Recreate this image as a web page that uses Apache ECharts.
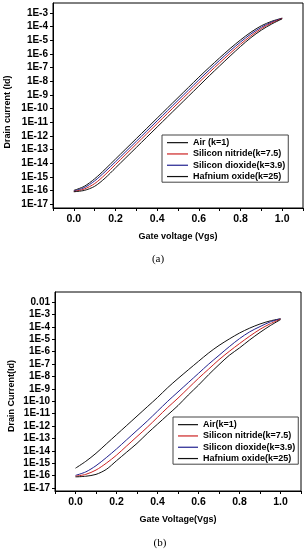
<!DOCTYPE html>
<html>
<head>
<meta charset="utf-8">
<script src="https://cdn.jsdelivr.net/npm/echarts@6/dist/echarts.min.js"></script>
<style>
html,body{margin:0;padding:0;background:#fff;}
#c{width:308px;height:550px;}
</style>
</head>
<body>
<div id="c"></div>
<script>
// Gate voltage (V)
var gateVoltage = [0,0.05,0.1,0.15,0.2,0.25,0.3,0.35,0.4,0.45,0.5,0.55,0.6,0.65,0.7,0.75,0.8,0.85,0.9,0.95,1.0];

// Panel (a): log10 of drain current (A)
var airA_log10      = [-16.0,-15.7,-15.15,-14.45,-13.7,-12.95,-12.2,-11.45,-10.7,-9.95,-9.2,-8.45,-7.7,-6.98,-6.28,-5.6,-4.97,-4.4,-3.93,-3.6,-3.37];
var nitrideA_log10  = [-16.08,-15.9,-15.5,-14.85,-14.1,-13.35,-12.6,-11.85,-11.1,-10.35,-9.6,-8.85,-8.1,-7.36,-6.65,-5.95,-5.28,-4.67,-4.14,-3.72,-3.4];
var dioxideA_log10  = [-16.05,-15.8,-15.3,-14.63,-13.9,-13.15,-12.4,-11.65,-10.9,-10.15,-9.4,-8.65,-7.9,-7.17,-6.46,-5.77,-5.12,-4.53,-4.04,-3.66,-3.38];
var hafniumA_log10  = [-16.1,-16.0,-15.7,-15.1,-14.35,-13.6,-12.85,-12.1,-11.35,-10.6,-9.85,-9.1,-8.35,-7.6,-6.87,-6.15,-5.45,-4.8,-4.25,-3.8,-3.42];

// Panel (b): log10 of drain current (A)
var airB_log10      = [-15.4,-14.85,-14.2,-13.45,-12.7,-11.95,-11.2,-10.45,-9.7,-8.9,-8.17,-7.47,-6.78,-6.1,-5.5,-4.98,-4.5,-4.1,-3.77,-3.52,-3.35];
var nitrideB_log10  = [-16.05,-15.9,-15.55,-15.0,-14.35,-13.6,-12.85,-12.1,-11.3,-10.5,-9.75,-8.95,-8.15,-7.4,-6.65,-5.98,-5.35,-4.75,-4.2,-3.75,-3.38];
var dioxideB_log10  = [-15.98,-15.7,-15.2,-14.55,-13.85,-13.1,-12.35,-11.6,-10.8,-10.0,-9.25,-8.5,-7.75,-7.0,-6.3,-5.6,-4.95,-4.4,-3.98,-3.6,-3.35];
var hafniumB_log10  = [-16.1,-16.05,-15.9,-15.5,-14.8,-14.1,-13.4,-12.6,-11.85,-11.1,-10.35,-9.5,-8.7,-7.85,-7.05,-6.3,-5.7,-5.05,-4.45,-3.9,-3.42];

// Decade tick positions (log10)
var decadeTicksA = [-17,-16,-15,-14,-13,-12,-11,-10,-9,-8,-7,-6,-5,-4,-3];
var decadeTicksB = [-17,-16,-15,-14,-13,-12,-11,-10,-9,-8,-7,-6,-5,-4,-3,-2];
var xTicks = [-0.1,0,0.1,0.2,0.3,0.4,0.5,0.6,0.7,0.8,0.9,1.0,1.1];
var xLabels = [0,0.2,0.4,0.6,0.8,1.0];

var namesA = ['Air (k=1)','Silicon nitride(k=7.5)','Silicon dioxide(k=3.9)','Hafnium oxide(k=25)'];
var namesB = ['Air(k=1)','Silicon nitride(k=7.5)','Silicon dioxide(k=3.9)','Hafnium oxide(k=25)'];

var BLACK = '#111111', RED = '#cc2222', BLUE = '#22228f';
var FONT = 'Liberation Sans, Arial, sans-serif';

function pts(logs){ return gateVoltage.map(function(v,i){ return [v, logs[i]]; }); }
function mkSeries(name, logs, color, idx){
  return {name:name, type:'line', xAxisIndex:idx, yAxisIndex:idx, data:pts(logs), smooth:0.3,
    symbol:'none', showSymbol:false, lineStyle:{color:color, width:1}, itemStyle:{color:color}, animation:false};
}
function yFmt(v){
  var r = Math.round(v);
  return r === -2 ? '0.01' : '1E' + r;
}
function xFmt(v){ return (Math.round(v*10)/10).toFixed(1); }
function xAxisCfg(idx){
  return {type:'value', gridIndex:idx, min:-0.1, max:1.1,
    axisLine:{show:true, onZero:false, lineStyle:{color:'#000', width:1}},
    axisTick:{show:true, inside:false, length:3, lineStyle:{color:'#000'}, customValues:xTicks},
    splitLine:{show:false},
    axisLabel:{formatter:xFmt, customValues:xLabels, margin:6, color:'#000', fontSize:10.5, fontWeight:'bold', fontFamily:FONT}};
}
function yAxisCfg(idx, lo, hi, ticks){
  return {type:'value', gridIndex:idx, min:lo, max:hi,
    axisLine:{show:true, onZero:false, lineStyle:{color:'#000', width:1}},
    axisTick:{show:true, inside:false, length:3, lineStyle:{color:'#000'}, customValues:ticks},
    splitLine:{show:false},
    axisLabel:{formatter:yFmt, customValues:ticks, margin:5, color:'#000', fontSize:10, fontWeight:'bold', fontFamily:FONT}};
}
function legendCfg(names, left, top, iw){
  return {data:names.map(function(n){return {name:n};}), orient:'vertical', left:left, top:top,
    icon:'rect', itemWidth:iw, itemHeight:1.2, itemGap:0, padding:[2,3,0,5],
    borderColor:'#444', borderWidth:1, borderRadius:0, backgroundColor:'#fff',
    selectedMode:false,
    textStyle:{color:'#000', fontSize:9, fontWeight:'bold', fontFamily:FONT, lineHeight:11.3}};
}
function txt(x, y, s, opts){
  opts = opts || {};
  return {type:'text', x:x, y:y, rotation:opts.rot || 0, z:100,
    style:{text:s, fill:'#000', font:opts.font || ('bold 9px ' + FONT),
      textAlign:'center', textVerticalAlign:'middle', align:'center', verticalAlign:'middle'}};
}

var chart = echarts.init(document.getElementById('c'), null, {renderer:'canvas'});
chart.setOption({
  animation:false,
  backgroundColor:'#fff',
  grid:[
    {left:53, top:3, width:250, height:205, show:true, borderColor:'#000', borderWidth:1, backgroundColor:'transparent'},
    {left:55, top:292, width:246, height:199, show:true, borderColor:'#000', borderWidth:1, backgroundColor:'transparent'}
  ],
  xAxis:[xAxisCfg(0), xAxisCfg(1)],
  yAxis:[yAxisCfg(0, -17.29, -2.26, decadeTicksA), yAxisCfg(1, -17.24, -1.19, decadeTicksB)],
  legend:[legendCfg(namesA, 162, 135, 21), legendCfg(namesB, 173, 417, 20)],
  series:[
    mkSeries(namesA[0], airA_log10, BLACK, 0),
    mkSeries(namesA[2], dioxideA_log10, BLUE, 0),
    mkSeries(namesA[1], nitrideA_log10, RED, 0),
    mkSeries(namesA[3], hafniumA_log10, BLACK, 0),
    mkSeries(namesB[0], airB_log10, BLACK, 1),
    mkSeries(namesB[2], dioxideB_log10, BLUE, 1),
    mkSeries(namesB[1], nitrideB_log10, RED, 1),
    mkSeries(namesB[3], hafniumB_log10, BLACK, 1)
  ],
  graphic:[
    txt(178, 237, 'Gate voltage (Vgs)'),
    txt(8, 112, 'Drain current (Id)', {rot:Math.PI/2}),
    txt(158, 259, '(a)', {font:'11px Liberation Serif, serif'}),
    txt(178, 520, 'Gate Voltage(Vgs)'),
    txt(12, 396, 'Drain Current(Id)', {rot:Math.PI/2}),
    txt(160, 543, '(b)', {font:'11px Liberation Serif, serif'})
  ]
});
</script>
</body>
</html>
